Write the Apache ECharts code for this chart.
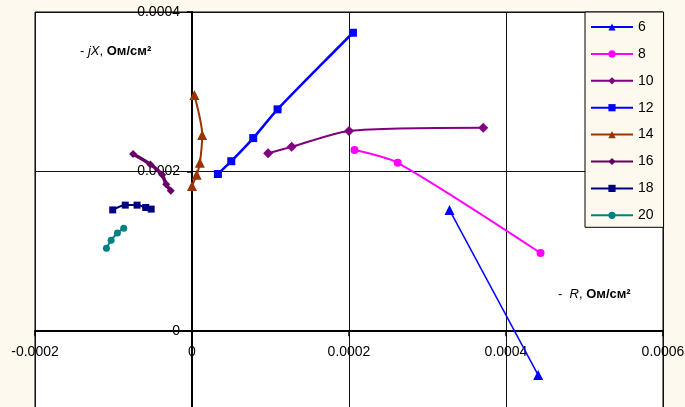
<!DOCTYPE html>
<html>
<head>
<meta charset="utf-8">
<script src="https://cdn.jsdelivr.net/npm/echarts@6/dist/echarts.min.js"></script>
<style>
html,body{margin:0;padding:0;background:#FDF9EE;}
#c{width:685px;height:407px;}
</style>
</head>
<body>
<div id="c"></div>
<script>
// Series names (legend)
var seriesNames = ['6', '8', '10', '12', '14', '16', '18', '20'];
// Data: [ -R (Ohm/cm2), -jX (Ohm/cm2) ]
var s6  = [[3.28e-4, 1.52e-4], [4.41e-4, -0.55e-4]];
var s8  = [[2.07e-4, 2.27e-4], [2.62e-4, 2.11e-4], [4.44e-4, 0.98e-4]];
var s10 = [[0.97e-4, 2.23e-4], [1.27e-4, 2.31e-4], [2.00e-4, 2.51e-4], [3.71e-4, 2.55e-4]];
var s12 = [[0.33e-4, 1.97e-4], [0.50e-4, 2.13e-4], [0.78e-4, 2.42e-4], [1.09e-4, 2.78e-4], [2.05e-4, 3.74e-4]];
var s14 = [[0.00e-4, 1.82e-4], [0.06e-4, 1.96e-4], [0.10e-4, 2.11e-4], [0.13e-4, 2.46e-4], [0.03e-4, 2.96e-4]];
var s16 = [[-0.75e-4, 2.22e-4], [-0.53e-4, 2.09e-4], [-0.38e-4, 1.96e-4], [-0.33e-4, 1.84e-4], [-0.27e-4, 1.76e-4]];
var s18 = [[-1.01e-4, 1.52e-4], [-0.85e-4, 1.58e-4], [-0.70e-4, 1.58e-4], [-0.59e-4, 1.55e-4], [-0.52e-4, 1.53e-4]];
var s20 = [[-1.09e-4, 1.04e-4], [-1.03e-4, 1.14e-4], [-0.95e-4, 1.23e-4], [-0.87e-4, 1.29e-4]];
// Tick labels
var xTickLabels = [-0.0002, 0, 0.0002, 0.0004, 0.0006];
var yTickLabels = [0, 0.0002, 0.0004];

var allData = [s6, s8, s10, s12, s14, s16, s18, s20];
var colors  = ['#0000FF', '#FF00FF', '#800080', '#0000FF', '#993300', '#660066', '#000080', '#008080'];
var symbols = ['triangle', 'circle', 'diamond', 'rect', 'triangle', 'diamond', 'rect', 'circle'];
var symSizes = [10, 8, 10, 8, 10, 8, 7, 7];
var lineWidths = [1.5, 2, 2, 2.5, 2, 3.5, 2, 2];

function fmt(v) {
  if (Math.abs(v) < 1e-12) return '0';
  return v.toFixed(4);
}

var font = 'Liberation Sans, Arial, sans-serif';

var X_MIN = -0.0002, X_MAX = 0.0006, Y_MIN = -0.0001, Y_MAX = 0.0004;
var GRID = { left: 35, top: 12, width: 628, height: 399 };
// offsets that put the axes through zero (inside the grid)
var yAxisOffset = -GRID.width * (0 - X_MIN) / (X_MAX - X_MIN);
var xAxisOffset = -GRID.height * (0 - Y_MIN) / (Y_MAX - Y_MIN);

var series = allData.map(function (d, i) {
  return {
    name: seriesNames[i],
    type: 'line',
    data: d,
    smooth: 0.25,
    symbol: symbols[i],
    symbolSize: symSizes[i],
    showAllSymbol: true,
    lineStyle: { color: colors[i], width: lineWidths[i] },
    itemStyle: { color: colors[i] },
    z: 3
  };
});

var chart = echarts.init(document.getElementById('c'), null, { renderer: 'canvas' });
chart.setOption({
  animation: false,
  backgroundColor: '#FDF9EE',
  textStyle: { fontFamily: font },
  grid: {
    left: GRID.left, top: GRID.top, width: GRID.width, height: GRID.height,
    show: true, backgroundColor: '#FFFFFF', borderColor: '#000000', borderWidth: 1,
    containLabel: false,
    outerBoundsMode: 'none'
  },
  xAxis: {
    type: 'value', position: 'bottom', offset: xAxisOffset,
    min: X_MIN, max: X_MAX, interval: 0.0001,
    axisLine: { show: true, onZero: false, lineStyle: { color: '#000', width: 2 } },
    axisTick: { show: true, inside: false, length: 5, customValues: xTickLabels, lineStyle: { color: '#000', width: 1.5 } },
    axisLabel: { customValues: xTickLabels, formatter: fmt, margin: 14, fontSize: 14, color: '#000', fontFamily: font },
    splitLine: { show: true, lineStyle: { color: '#111', width: 1 } }
  },
  yAxis: {
    type: 'value', position: 'left', offset: yAxisOffset,
    min: Y_MIN, max: Y_MAX, interval: 0.0001,
    axisLine: { show: true, onZero: false, lineStyle: { color: '#000', width: 2 } },
    axisTick: { show: true, inside: false, length: 5, customValues: yTickLabels, lineStyle: { color: '#000', width: 1.5 } },
    axisLabel: { customValues: yTickLabels, formatter: fmt, margin: 12, fontSize: 14, color: '#000', fontFamily: font },
    splitLine: { show: true, lineStyle: { color: '#111', width: 1 } }
  },
  legend: {
    orient: 'vertical',
    left: 585, top: 12,
    padding: [8, 10, 5, 5],
    itemWidth: 42, itemHeight: 9, itemGap: 12.9,
    backgroundColor: '#FDF9EE',
    borderColor: '#000', borderWidth: 1,
    textStyle: { fontSize: 14, color: '#000', fontFamily: font },
    data: seriesNames
  },
  graphic: [
    {
      type: 'text', left: 80, top: 45, z: 10,
      style: {
        text: '{n|- }{i|jX}{n|, }{b|Ом/см²}',
        rich: {
          n: { fontSize: 13, fontFamily: font, fill: '#000' },
          i: { fontSize: 13, fontFamily: font, fontStyle: 'italic', fill: '#000' },
          b: { fontSize: 13, fontFamily: font, fontWeight: 'bold', fill: '#000' }
        }
      }
    },
    {
      type: 'text', left: 558, top: 288, z: 10,
      style: {
        text: '{n|-  }{i|R}{n|, }{b|Ом/см²}',
        rich: {
          n: { fontSize: 13, fontFamily: font, fill: '#000' },
          i: { fontSize: 13, fontFamily: font, fontStyle: 'italic', fill: '#000' },
          b: { fontSize: 13, fontFamily: font, fontWeight: 'bold', fill: '#000' }
        }
      }
    }
  ],
  series: series
});
</script>
</body>
</html>
